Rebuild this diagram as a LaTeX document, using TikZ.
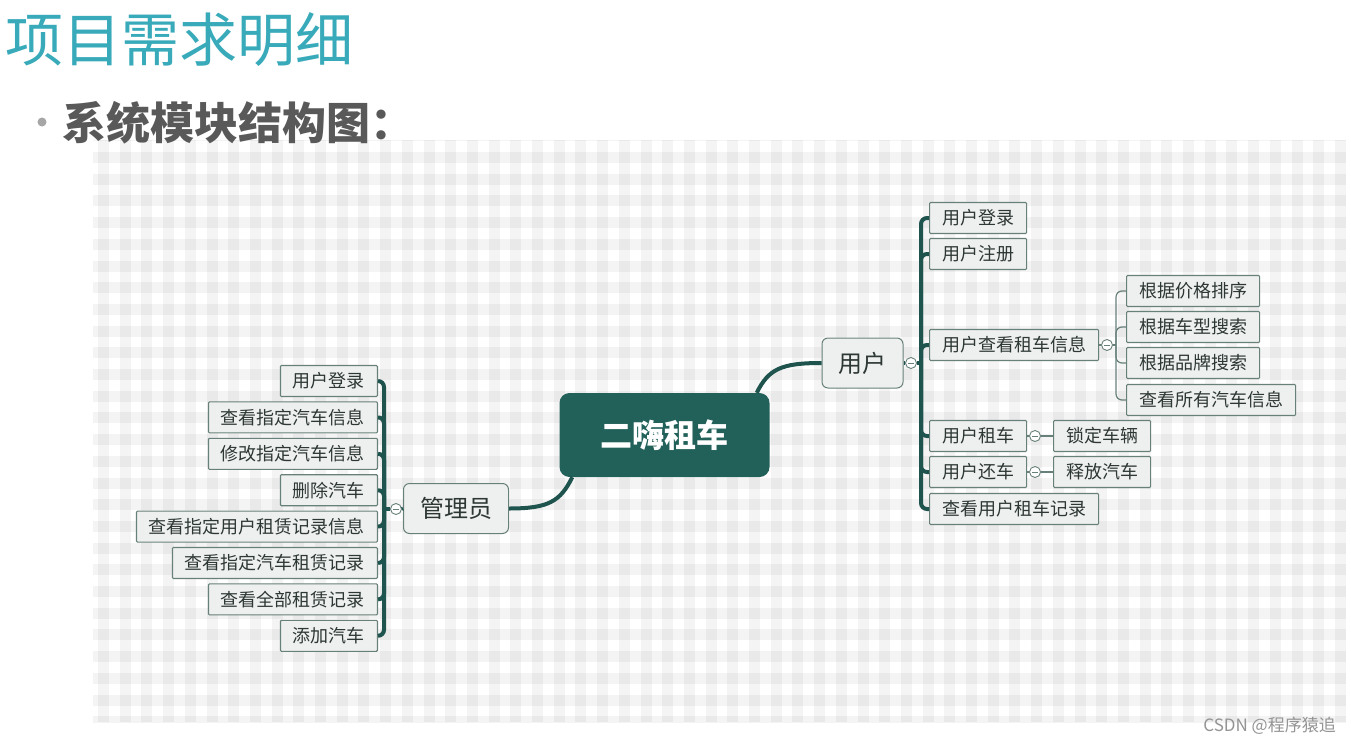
\documentclass[tikz,border=0pt]{standalone}
\usepackage{fontspec}
\setmainfont{Noto Sans CJK SC}
\usetikzlibrary{positioning}
\definecolor{titlecolor}{RGB}{56,170,186}
\definecolor{subcolor}{RGB}{89,89,89}
\definecolor{rootcolor}{RGB}{34,96,90}
\definecolor{trunkcolor}{RGB}{30,84,77}
\definecolor{boxline}{RGB}{104,128,122}
\definecolor{boxfill}{RGB}{238,240,239}
\definecolor{nodetext}{RGB}{45,55,52}

\begin{document}
\begin{tikzpicture}[x=1pt,y=-1pt,
    leaf/.style={draw=boxline,fill=boxfill,text=nodetext,line width=1.1pt,rounded corners=1pt,
      font=\fontsize{18}{18}\selectfont,inner xsep=12.5pt,inner ysep=0pt,minimum height=31pt},
    topic/.style={draw=boxline,fill=boxfill,text=nodetext,line width=1pt,rounded corners=6pt,
      font=\fontsize{24}{24}\selectfont,inner xsep=16.5pt,inner ysep=0pt,minimum height=50pt},
    root/.style={fill=rootcolor,text=white,rounded corners=10pt,
      font=\fontsize{32}{32}\selectfont\bfseries,inner xsep=41pt,inner ysep=0pt,minimum height=84pt},
    fold/.style={circle,draw=boxline,fill=white,line width=0.9pt,minimum size=11pt,inner sep=0pt,
      path picture={\draw[boxline,line width=0.9pt]
        ([xshift=-3pt]path picture bounding box.center) -- ([xshift=3pt]path picture bounding box.center);}},
    trunk/.style={draw=trunkcolor,line width=4pt,rounded corners=6pt},
    twig/.style={draw=boxline,line width=1.2pt,rounded corners=6pt}]
  \useasboundingbox (0,0) rectangle (1351,744);
  \fill[white] (0,0) rectangle (1351,744);

  % gingham background
  \begin{scope}
    \clip (93,140) rectangle (1346,722);
    \foreach \i in {-1,...,57}
      \fill[black,opacity=0.045] ({98+21.7*\i},140) rectangle ({109+21.7*\i},722);
    \foreach \j in {-1,...,26}
      \fill[black,opacity=0.045] (93,{152+21.7*\j}) rectangle (1346,{163+21.7*\j});
  \end{scope}

  % headings
  \node[anchor=base west,inner sep=0pt,text=titlecolor,font=\fontsize{58}{58}\selectfont]
    (title) at (5,61) {项目需求明细};
  \fill[black!35] (42,122) circle (4.5);
  \node[anchor=base west,inner sep=0pt,text=subcolor,font=\fontsize{44}{44}\selectfont\bfseries]
    (subtitle) at (62,139) {系统模块结构图：};

  % centre and main topics
  \node[root] (car) at (664.5,435) {二嗨租车};
  \node[topic] (user) at (862.5,363) {用户};
  \node[topic] (admin) at (456,508.5) {管理员};
  \draw[trunk] ([xshift=-13pt]car.north east) .. controls +(12,-24) and +(-40,0) .. (user.west);
  \draw[trunk] ([xshift=13pt]car.south west) .. controls +(-12,24) and +(40,0) .. (admin.east);

  % user branch
  \node[leaf,anchor=west] (u1) at (929,218) {用户登录};
  \node[leaf,anchor=west] (u2) at (929,254) {用户注册};
  \node[leaf,anchor=west] (u3) at (929,345) {用户查看租车信息};
  \node[leaf,anchor=west] (u4) at (929,436) {用户租车};
  \node[leaf,anchor=west] (u5) at (929,472) {用户还车};
  \node[leaf,anchor=west] (u6) at (929,509) {查看用户租车记录};
  \coordinate (ubar) at (921,363);
  \foreach \k in {1,...,6}
    \draw[trunk] (ubar) |- (u\k.west);
  \node[fold] (ufold) at (911,363) {};
  \draw[trunk] (user.east) -- (ufold.west);
  \draw[trunk] (ufold.east) -- (ubar);

  % search sub-branch
  \node[leaf,anchor=west] (s1) at (1126,291) {根据价格排序};
  \node[leaf,anchor=west] (s2) at (1126,327) {根据车型搜索};
  \node[leaf,anchor=west] (s3) at (1126,363) {根据品牌搜索};
  \node[leaf,anchor=west] (s4) at (1126,400) {查看所有汽车信息};
  \coordinate (sbar) at (1116,345);
  \foreach \k in {1,...,4}
    \draw[twig] (sbar) |- (s\k.west);
  \node[fold] (sfold) at (1107,345) {};
  \draw[twig] (u3.east) -- (sfold.west);
  \draw[twig] (sfold.east) -- (sbar);

  % rent / return
  \node[leaf,anchor=west] (r1) at (1053,436) {锁定车辆};
  \node[leaf,anchor=west] (r2) at (1053,472) {释放汽车};
  \node[fold] (rfold1) at (1035,436) {};
  \node[fold] (rfold2) at (1035,472) {};
  \draw[twig] (u4.east) -- (rfold1.west);
  \draw[twig] (rfold1.east) -- (r1.west);
  \draw[twig] (u5.east) -- (rfold2.west);
  \draw[twig] (rfold2.east) -- (r2.west);

  % admin branch
  \foreach \t [count=\k] in {用户登录,查看指定汽车信息,修改指定汽车信息,删除汽车,
      查看指定用户租赁记录信息,查看指定汽车租赁记录,查看全部租赁记录,添加汽车}
    \node[leaf,anchor=east] (a\k) at (378,{381+36.4*(\k-1)}) {\t};
  \coordinate (abar) at (384,509);
  \foreach \k in {1,...,8}
    \draw[trunk] (abar) |- (a\k.east);
  \node[fold] (afold) at (396,509) {};
  \draw[trunk] (admin.west) -- (afold.east);
  \draw[trunk] (afold.west) -- (abar);

  % watermark
  \node[anchor=base east,inner sep=0pt,text=black!42,font=\fontsize{17}{17}\selectfont]
    (mark) at (1336,731) {CSDN @程序猿追};
\end{tikzpicture}
\end{document}
